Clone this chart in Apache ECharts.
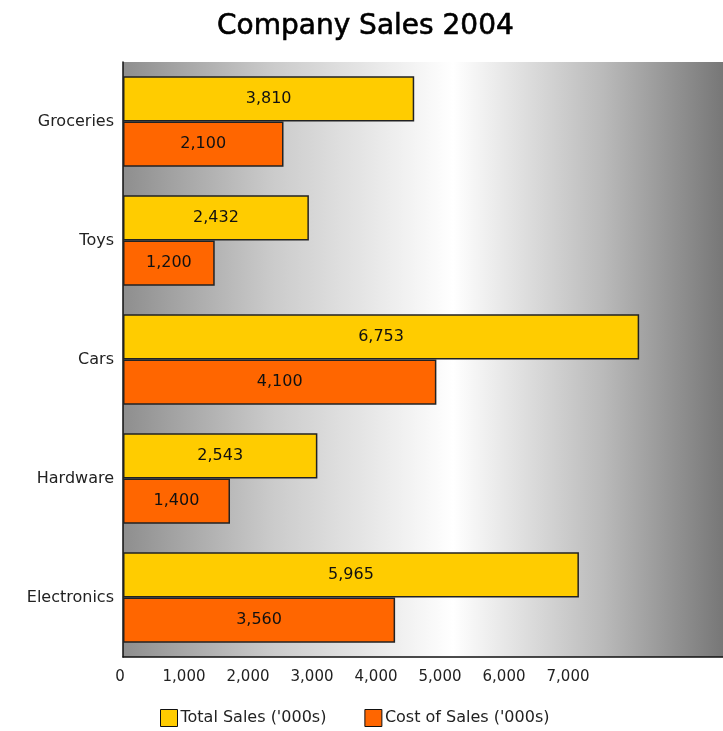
<!DOCTYPE html>
<html>
<head>
<meta charset="utf-8">
<script src="https://cdn.jsdelivr.net/npm/echarts@6/dist/echarts.min.js"></script>
<style>html,body{margin:0;padding:0;background:#fff;}#c{width:723px;height:731px;}</style>
</head>
<body>
<div id="c"></div>
<script>
var categories = ['Groceries', 'Toys', 'Cars', 'Hardware', 'Electronics'];
var totalSales = [3810, 2432, 6753, 2543, 5965];
var costOfSales = [2100, 1200, 4100, 1400, 3560];
var xTickValues = [0, 1000, 2000, 3000, 4000, 5000, 6000, 7000];
var seriesNames = ["Total Sales ('000s)", "Cost of Sales ('000s)"];

var FONT = 'DejaVu Sans';
function fmt(v) { return String(v).replace(/\B(?=(\d{3})+(?!\d))/g, ','); }

var chart = echarts.init(document.getElementById('c'), null, {renderer: 'canvas'});
chart.setOption({
  animation: false,
  backgroundColor: '#ffffff',
  title: {
    text: 'Company Sales 2004',
    left: 212,
    top: 8,
    textStyle: {fontFamily: FONT, fontSize: 28, fontWeight: 'normal', color: '#000',
      textBorderColor: '#000', textBorderWidth: 0.6}
  },
  legend: {
    top: 704,
    left: 155,
    itemWidth: 17,
    itemHeight: 17,
    itemGap: 38,
    icon: 'rect',
    data: seriesNames,
    textStyle: {fontFamily: FONT, fontSize: 16, color: '#222', padding: [0, 0, 0, -2]},
    itemStyle: {borderColor: '#111', borderWidth: 1}
  },
  grid: {
    left: 123, right: 0, top: 62, bottom: 74,
    show: true,
    borderWidth: 0,
    backgroundColor: {
      type: 'linear', x: 0, y: 0, x2: 1, y2: 0,
      colorStops: [
        {offset: 0, color: '#8e8e8e'},
        {offset: 0.25, color: '#cbcbcb'},
        {offset: 0.55, color: '#ffffff'},
        {offset: 0.8, color: '#bababa'},
        {offset: 1, color: '#777777'}
      ]
    }
  },
  xAxis: [
    {
      type: 'value', min: 0, max: 7850,
      axisLine: {show: true, lineStyle: {color: '#111', width: 1.5}},
      axisTick: {show: false},
      axisLabel: {show: false},
      splitLine: {show: false}
    },
    {
      type: 'value', min: 0, max: 9375, interval: 1000,
      position: 'bottom',
      axisLine: {show: false},
      axisTick: {show: false},
      splitLine: {show: false},
      axisLabel: {
        customValues: xTickValues,
        margin: 13,
        padding: [0, 6, 0, 0],
        fontFamily: FONT, fontSize: 15, color: '#222',
        formatter: function (v) { return fmt(v); }
      }
    }
  ],
  yAxis: {
    type: 'category',
    data: categories,
    inverse: true,
    axisLine: {show: true, lineStyle: {color: '#111', width: 1.5}},
    axisTick: {show: false},
    axisLabel: {fontFamily: FONT, fontSize: 16, color: '#222', margin: 9}
  },
  series: [
    {
      name: seriesNames[0], type: 'bar', xAxisIndex: 0,
      data: totalSales,
      barGap: '0%', barCategoryGap: '24%',
      itemStyle: {color: '#FFCC00', borderColor: '#222', borderWidth: 1.5},
      label: {show: true, position: 'inside', fontFamily: FONT, fontSize: 16, color: '#111',
        formatter: function (p) { return fmt(p.value); }}
    },
    {
      name: seriesNames[1], type: 'bar', xAxisIndex: 0,
      data: costOfSales,
      barGap: '0%', barCategoryGap: '24%',
      itemStyle: {color: '#FF6600', borderColor: '#222', borderWidth: 1.5},
      label: {show: true, position: 'inside', fontFamily: FONT, fontSize: 16, color: '#111',
        formatter: function (p) { return fmt(p.value); }}
    }
  ]
});
</script>
</body>
</html>
